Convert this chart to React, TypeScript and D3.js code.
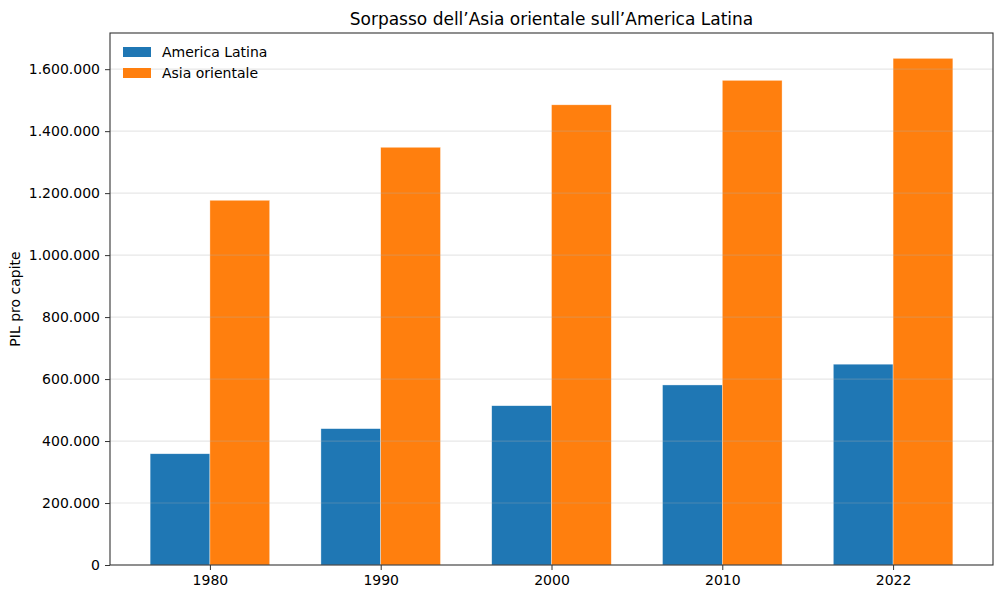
import React, { useEffect, useRef } from "react";
import * as d3 from "d3";

const years = ["1980", "1990", "2000", "2010", "2022"];
const seriesNames = ["America Latina", "Asia orientale"];
const americaLatina = [359000, 440000, 514000, 581000, 648000];
const asiaOrientale = [1177000, 1348000, 1485000, 1564000, 1635000];
const yTicks = [0, 200000, 400000, 600000, 800000, 1000000, 1200000, 1400000, 1600000];
const colors = ["#1f77b4", "#ff7f0e"];

const W = 1004;
const H = 598;
const margin = { left: 110, right: 11, top: 33, bottom: 33 };
const font = "DejaVu Sans, sans-serif";

const fmt = (v: number) => (v === 0 ? "0" : d3.format(",")(v).replace(/,/g, "."));

const App = () => {
  const svgRef = useRef(null);

  useEffect(() => {
    const svg = d3.select(svgRef.current);
    svg.selectAll("*").remove();

    const plotW = W - margin.left - margin.right;
    const plotH = H - margin.top - margin.bottom;
    const barW = 0.35;
    const maxV = d3.max(asiaOrientale) as number;

    // linear x in category index units, like matplotlib
    const span = 4 + 2 * barW;
    const x = d3
      .scaleLinear()
      .domain([-barW - span * 0.05, 4 + barW + span * 0.05])
      .range([margin.left, margin.left + plotW]);
    const y = d3
      .scaleLinear()
      .domain([0, maxV * 1.05])
      .range([margin.top + plotH, margin.top]);

    svg.append("rect").attr("width", W).attr("height", H).attr("fill", "white");

    const series = [americaLatina, asiaOrientale];
    series.forEach((vals, si) => {
      svg
        .append("g")
        .selectAll("rect")
        .data(vals)
        .enter()
        .append("rect")
        .attr("x", (d, i) => x(i + (si === 0 ? -barW : 0)))
        .attr("y", (d) => y(d))
        .attr("width", x(barW) - x(0))
        .attr("height", (d) => y(0) - y(d))
        .attr("fill", colors[si])
        .attr("stroke", "white")
        .attr("stroke-opacity", 0.6)
        .attr("stroke-width", 0.6);
    });

    // grid over bars
    svg
      .append("g")
      .selectAll("line")
      .data(yTicks.slice(1))
      .enter()
      .append("line")
      .attr("x1", margin.left)
      .attr("x2", margin.left + plotW)
      .attr("y1", (d) => y(d))
      .attr("y2", (d) => y(d))
      .attr("stroke", "#b0b0b0")
      .attr("stroke-opacity", 0.3)
      .attr("stroke-width", 1.2);

    // y axis
    const yAxis = svg
      .append("g")
      .attr("transform", `translate(${margin.left},0)`)
      .call(d3.axisLeft(y).tickValues(yTicks).tickFormat((d: any) => fmt(d)).tickSize(5).tickPadding(5));
    yAxis.select(".domain").remove();
    yAxis.selectAll("text").attr("font-family", font).attr("font-size", 14).attr("fill", "#000");
    yAxis.selectAll("line").attr("stroke", "#333");

    // x axis
    const xAxis = svg
      .append("g")
      .attr("transform", `translate(0,${margin.top + plotH})`)
      .call(
        d3
          .axisBottom(x)
          .tickValues(d3.range(years.length))
          .tickFormat((d: any) => years[d])
          .tickSize(5)
          .tickPadding(5)
      );
    xAxis.select(".domain").remove();
    xAxis.selectAll("text").attr("font-family", font).attr("font-size", 14).attr("fill", "#000");
    xAxis.selectAll("line").attr("stroke", "#333");

    // frame
    svg
      .append("rect")
      .attr("x", margin.left)
      .attr("y", margin.top)
      .attr("width", plotW)
      .attr("height", plotH)
      .attr("fill", "none")
      .attr("stroke", "#333")
      .attr("stroke-width", 1.1);

    // title
    svg
      .append("text")
      .attr("x", margin.left + plotW / 2)
      .attr("y", 25)
      .attr("text-anchor", "middle")
      .attr("font-family", font)
      .attr("font-size", 17)
      .text("Sorpasso dell\u2019Asia orientale sull\u2019America Latina");

    // y label
    svg
      .append("text")
      .attr("transform", `translate(20,${margin.top + plotH / 2}) rotate(-90)`)
      .attr("text-anchor", "middle")
      .attr("font-family", font)
      .attr("font-size", 14)
      .text("PIL pro capite");

    // legend
    const legend = svg.append("g").attr("transform", `translate(${margin.left + 13},${margin.top + 14})`);
    seriesNames.forEach((name, i) => {
      legend
        .append("rect")
        .attr("x", 0)
        .attr("y", i * 21)
        .attr("width", 28)
        .attr("height", 10)
        .attr("fill", colors[i]);
      legend
        .append("text")
        .attr("x", 39)
        .attr("y", i * 21 + 10)
        .attr("font-family", font)
        .attr("font-size", 14)
        .text(name);
    });
  }, []);

  return <svg ref={svgRef} width={W} height={H} style={{ display: "block", margin: "-8px" }} />;
};

export default App;
